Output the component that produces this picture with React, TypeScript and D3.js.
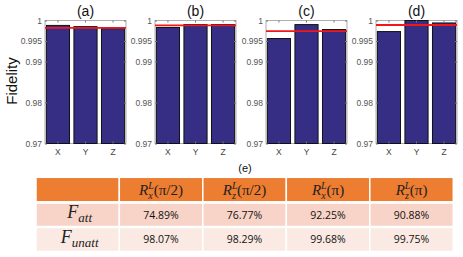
import React, { useRef, useEffect } from 'react';
import * as d3 from 'd3';

// bar values per panel
const categories = ['X', 'Y', 'Z'];
const panelTitles = ['(a)', '(b)', '(c)', '(d)'];
const valuesA = [0.9988, 0.9985, 0.998];
const valuesB = [0.9983, 0.999, 0.999];
const valuesC = [0.9956, 0.999, 0.9978];
const valuesD = [0.9973, 1.0, 0.9994];
const redLines = [0.9982, 0.9988, 0.9974, 0.9989];
const yTicks = [0.97, 0.98, 0.99, 0.995, 1];

// table
const colHeads = [
  { sub: 'x', arg: '(π/2)' },
  { sub: 'z', arg: '(π/2)' },
  { sub: 'x', arg: '(π)' },
  { sub: 'z', arg: '(π)' },
];
const rowHeads = ['att', 'unatt'];
const fAtt = ['74.89%', '76.77%', '92.25%', '90.88%'];
const fUnatt = ['98.07%', '98.29%', '99.68%', '99.75%'];

const App = () => {
  const svgRef = useRef<SVGSVGElement>(null);

  useEffect(() => {
    const svg = d3.select(svgRef.current);
    svg.selectAll('*').remove();

    const panels = [valuesA, valuesB, valuesC, valuesD];
    const panelLeft = [45, 155, 266, 376];
    const pw = 81;
    const top = 20.5;
    const bottom = 143.5;

    const y = d3.scaleLinear().domain([0.97, 1]).range([bottom, top]);

    panels.forEach((vals, i) => {
      const g = svg.append('g').attr('transform', `translate(${panelLeft[i]},0)`);
      const x = d3.scaleBand<string>()
        .domain(categories)
        .range([0, pw])
        .paddingInner(0.16)
        .paddingOuter(0.05);

      // box
      g.append('rect')
        .attr('x', 0).attr('y', top)
        .attr('width', pw).attr('height', bottom - top)
        .attr('fill', 'white')
        .attr('stroke', '#999').attr('stroke-width', 0.8);

      // bars
      g.selectAll('rect.bar')
        .data(vals)
        .enter()
        .append('rect')
        .attr('class', 'bar')
        .attr('x', (d, j) => x(categories[j])!)
        .attr('y', d => y(d))
        .attr('width', x.bandwidth())
        .attr('height', d => bottom - y(d))
        .attr('fill', '#352e84')
        .attr('stroke', '#111')
        .attr('stroke-width', 1);

      // red reference line
      g.append('line')
        .attr('x1', 0).attr('x2', pw)
        .attr('y1', y(redLines[i])).attr('y2', y(redLines[i]))
        .attr('stroke', '#f01818')
        .attr('stroke-width', 1.8);

      // y axis left and right ticks
      const yl = g.append('g').call(d3.axisLeft(y).tickValues(yTicks).tickSize(-2).tickFormat(d => String(+d)));
      yl.select('.domain').remove();
      yl.selectAll('line').attr('stroke', '#777');
      yl.selectAll('text').attr('fill', '#555').attr('font-size', 8.5).attr('font-family', 'Liberation Sans, Arial, sans-serif').attr('x', -3);
      const yr = g.append('g').attr('transform', `translate(${pw},0)`)
        .call(d3.axisRight(y).tickValues(yTicks).tickSize(-2).tickFormat(() => ''));
      yr.select('.domain').remove();
      yr.selectAll('line').attr('stroke', '#777');

      // x axis
      const xb = g.append('g').attr('transform', `translate(0,${bottom})`)
        .call(d3.axisBottom(x).tickSize(-2));
      xb.select('.domain').remove();
      xb.selectAll('line').attr('stroke', '#777');
      xb.selectAll('text').attr('fill', '#444').attr('font-size', 8.5).attr('font-family', 'Liberation Sans, Arial, sans-serif').attr('dy', '0.95em');
      const xt = g.append('g').attr('transform', `translate(0,${top})`)
        .call(d3.axisTop(x).tickSize(-2).tickFormat(() => ''));
      xt.select('.domain').remove();
      xt.selectAll('line').attr('stroke', '#777');

      // title
      g.append('text')
        .attr('x', pw / 2).attr('y', 16)
        .attr('text-anchor', 'middle')
        .attr('font-family', 'Liberation Sans, Arial, sans-serif')
        .attr('font-size', 14)
        .attr('fill', '#111')
        .text(panelTitles[i]);
    });

    svg.append('text')
      .attr('transform', 'translate(17,81) rotate(-90)')
      .attr('text-anchor', 'middle')
      .attr('font-family', 'Liberation Sans, Arial, sans-serif')
      .attr('font-size', 15)
      .attr('fill', '#111')
      .text('Fidelity');

    // (e) table
    svg.append('text')
      .attr('x', 245).attr('y', 172)
      .attr('text-anchor', 'middle')
      .attr('font-family', 'Liberation Sans, Arial, sans-serif')
      .attr('font-size', 11)
      .attr('fill', '#111')
      .text('(e)');

    const colX = d3.scaleLinear().domain([0, 4]).range([119.3, 453.3]);
    const tLeft = 36;
    const rowTop = [177.3, 203, 227.5];
    const rowH = [24.5, 23.5, 24];
    const rowFill = ['#ed7d31', '#f8d4c8', '#fbe9e4'];

    rowTop.forEach((ry, r) => {
      const cells = [tLeft, ...d3.range(4).map(c => colX(c))];
      cells.forEach((cx, c) => {
        const cw = c === 0 ? colX(0) - tLeft : colX(c) - colX(c - 1);
        svg.append('rect')
          .attr('x', cx).attr('y', ry)
          .attr('width', cw).attr('height', rowH[r])
          .attr('fill', rowFill[r])
          .attr('stroke', 'white').attr('stroke-width', 1.5);
      });
    });

    // header
    colHeads.forEach((h, c) => {
      const t = svg.append('text')
        .attr('x', (colX(c) + colX(c + 1)) / 2)
        .attr('y', 195)
        .attr('text-anchor', 'middle')
        .attr('font-family', 'Liberation Serif, serif')
        .attr('fill', '#222');
      t.append('tspan').attr('font-style', 'italic').attr('font-size', 15).text('R');
      t.append('tspan').attr('font-style', 'italic').attr('font-size', 10).attr('dy', -6).text('L');
      t.append('tspan').attr('font-style', 'italic').attr('font-size', 10).attr('dx', -5.5).attr('dy', 10).text(h.sub);
      t.append('tspan').attr('font-size', 15).attr('dy', -4).attr('dx', 1).text(h.arg);
    });

    // row heads
    rowHeads.forEach((rh, r) => {
      const t = svg.append('text')
        .attr('x', (tLeft + colX(0)) / 2 + 2)
        .attr('y', rowTop[r + 1] + 15)
        .attr('text-anchor', 'middle')
        .attr('font-family', 'Liberation Serif, serif')
        .attr('font-style', 'italic')
        .attr('fill', '#222');
      t.append('tspan').attr('font-size', 18).text('F');
      t.append('tspan').attr('font-size', 13).attr('dy', 4).text(rh);
    });

    [fAtt, fUnatt].forEach((row, r) => {
      row.forEach((v, c) => {
        svg.append('text')
          .attr('x', (colX(c) + colX(c + 1)) / 2)
          .attr('y', rowTop[r + 1] + 15.5)
          .attr('text-anchor', 'middle')
          .attr('font-family', 'Open Sans, Liberation Sans, sans-serif')
          .attr('font-size', 10.5)
          .attr('fill', '#111')
          .text(v);
      });
    });
  }, []);

  return (
    <svg
      ref={svgRef}
      width={463}
      height={257}
      style={{ position: 'absolute', left: 0, top: 0, background: 'white' }}
    />
  );
};

export default App;
